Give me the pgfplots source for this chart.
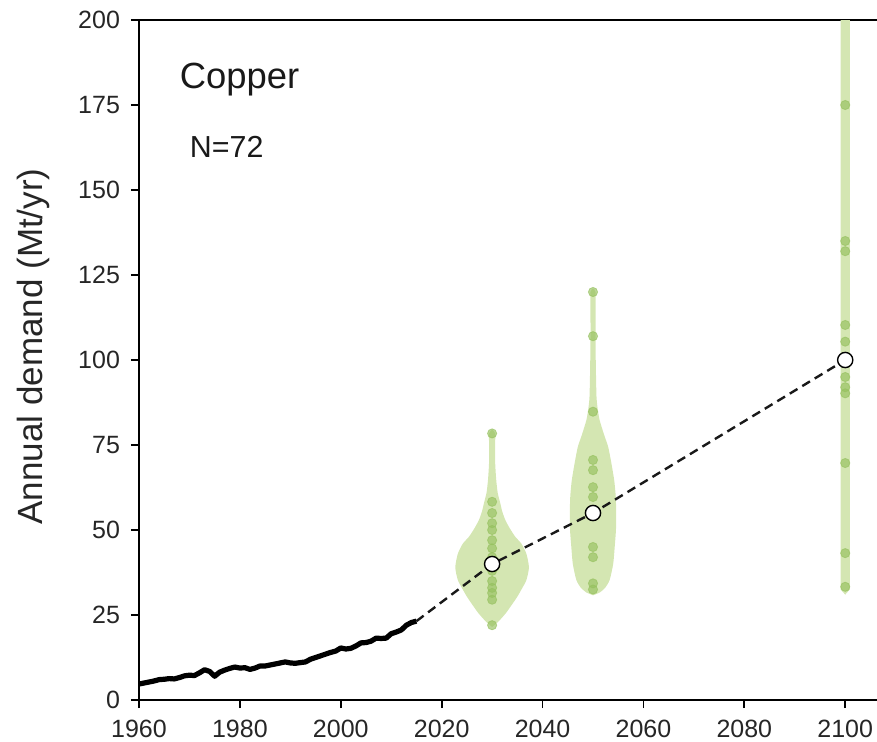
\documentclass[border=0pt]{standalone}
\usepackage{fontspec}
\setmainfont{Liberation Sans}
\usepackage{pgfplots}
\pgfplotsset{compat=1.18}
\definecolor{violinfill}{RGB}{212,230,178}
\definecolor{dotgreen}{RGB}{150,193,95}
\begin{document}
\begin{tikzpicture}
\begin{axis}[
  scale only axis,
  width=369pt, height=340pt,
  xmin=1960, xmax=2106.3, ymin=0, ymax=200,
  axis x line=box, axis y line=left,
  axis line style={-, line width=0.9pt},
  xtick pos=bottom, ytick pos=left,
  xtick={1960,1980,...,2100},
  ytick={0,25,...,200},
  tick align=outside,
  major tick length=4pt,
  tick style={line width=0.9pt, black},
  /pgf/number format/assume math mode=true,
  /pgf/number format/1000 sep={},
  ticklabel style={font=\fontsize{12.5}{15}\selectfont, text=black!85},
  xticklabel style={yshift=-2.5pt},
  yticklabel style={xshift=-2pt},
  ylabel={Annual demand (Mt/yr)},
  every axis y label/.style={at={(axis description cs:-0.1436,0.52)}, rotate=90, anchor=center, font=\fontsize{17.5}{20}\selectfont, text=black!85},
]
% violins
\addplot[fill=violinfill, draw=none, smooth, tension=0.4] coordinates {
 (2030,21.5) (2031.2,23) (2032.7,25.5) (2033.9,28) (2035.0,30.4) (2036.0,33) (2036.8,35.3) (2037.3,39) (2036.8,43) (2035.8,46) (2034.6,48) (2033.5,50.5) (2032.6,53) (2032.0,55.5) (2031.6,58) (2031.1,61) (2030.8,65) (2030.6,70) (2030.6,75) (2030.6,78.4) (2030,79.5)
 (2029.4,78.4) (2029.4,75) (2029.4,70) (2029.2,65) (2028.9,61) (2028.4,58) (2028.0,55.5) (2027.4,53) (2026.5,50.5) (2025.4,48) (2024.2,46) (2023.2,43) (2022.7,39) (2023.2,35.3) (2024.0,33) (2025.0,30.4) (2026.1,28) (2027.3,25.5) (2028.8,23)
} -- cycle;
\addplot[fill=violinfill, draw=none, smooth, tension=0.4] coordinates {
 (2050,30.8) (2051.3,31.6) (2052.4,33) (2053.3,35.3) (2054.0,40) (2054.3,45) (2054.55,50) (2054.6,55) (2054.5,60) (2054.2,64.7) (2053.6,70) (2053.0,74.5) (2052.2,78) (2051.3,82.4) (2050.9,86) (2050.7,89) (2050.6,95) (2050.5,105) (2050.5,115) (2050.5,120) (2050,121)
 (2049.5,120) (2049.5,115) (2049.5,105) (2049.4,95) (2049.3,89) (2049.1,86) (2048.7,82.4) (2047.8,78) (2047.0,74.5) (2046.4,70) (2045.8,64.7) (2045.5,60) (2045.4,55) (2045.45,50) (2045.7,45) (2046.0,40) (2046.7,35.3) (2047.6,33) (2048.7,31.6)
} -- cycle;
\addplot[fill=violinfill, draw=none] coordinates {
 (2100,31) (2100.9,32.5) (2100.9,215) (2099.1,215) (2099.1,32.5)
} -- cycle;
% scenario dots
\addplot[dotgreen, only marks, mark=*, mark size=2.3pt, opacity=0.65] coordinates {
 (2030,22) (2030,29.5) (2030,31.5) (2030,33) (2030,35) (2030,38) (2030,42) (2030,44.6) (2030,47) (2030,50) (2030,52) (2030,55) (2030,58.3) (2030,78.4)
 (2050,32.5) (2050,34.3) (2050,42) (2050,45) (2050,55) (2050,59.7) (2050,62.6) (2050,67.6) (2050,70.6) (2050,84.8) (2050,107) (2050,120)
 (2100,33.3) (2100,43.2) (2100,69.7) (2100,90.2) (2100,92) (2100,95) (2100,105.4) (2100,110.3) (2100,132) (2100,135) (2100,175)
};
% historical demand
\addplot[black, line width=2.6pt, line join=round] coordinates {
 (1960,4.7) (1961,5.0) (1962,5.3) (1963,5.6) (1964,6.0) (1965,6.1) (1966,6.3) (1967,6.2) (1968,6.6) (1969,7.1)
 (1970,7.3) (1971,7.2) (1972,8.0) (1973,8.9) (1974,8.4) (1975,7.0) (1976,8.2) (1977,8.8) (1978,9.3) (1979,9.7)
 (1980,9.4) (1981,9.5) (1982,9.0) (1983,9.4) (1984,10.0) (1985,10.0) (1986,10.3) (1987,10.6) (1988,10.9) (1989,11.2)
 (1990,10.9) (1991,10.8) (1992,11.0) (1993,11.2) (1994,12.0) (1995,12.5) (1996,13.0) (1997,13.5) (1998,14.0) (1999,14.4)
 (2000,15.3) (2001,15.0) (2002,15.2) (2003,15.9) (2004,16.8) (2005,16.9) (2006,17.3) (2007,18.2) (2008,18.1) (2009,18.2)
 (2010,19.5) (2011,20.0) (2012,20.6) (2013,22.0) (2014,22.8) (2015,23.2)
};
% median projection
\addplot[black!90, line width=1.2pt, dash pattern=on 4.5pt off 2.8pt] coordinates {
 (2015,23.2) (2030,40) (2050,55) (2100,100)
};
\addplot[only marks, mark=*, mark size=3.8pt, mark options={draw=black, fill=white, line width=0.7pt}] coordinates {
 (2030,40) (2050,55) (2100,100)
};
\node[anchor=base west, font=\fontsize{18.2}{22}\selectfont, text=black!90] at (axis cs:1966.7,180) {Copper};
\node[anchor=base west, font=\fontsize{15.2}{18}\selectfont, text=black!90] at (axis cs:1968.7,159.7) {N=72};
\coordinate (LL) at (rel axis cs:0,0);
\coordinate (UR) at (rel axis cs:1,1);
\end{axis}
\pgfresetboundingbox
\useasboundingbox ([xshift=-69.5pt,yshift=-20.5pt]LL) rectangle ([yshift=10pt]UR);
\end{tikzpicture}
\end{document}
